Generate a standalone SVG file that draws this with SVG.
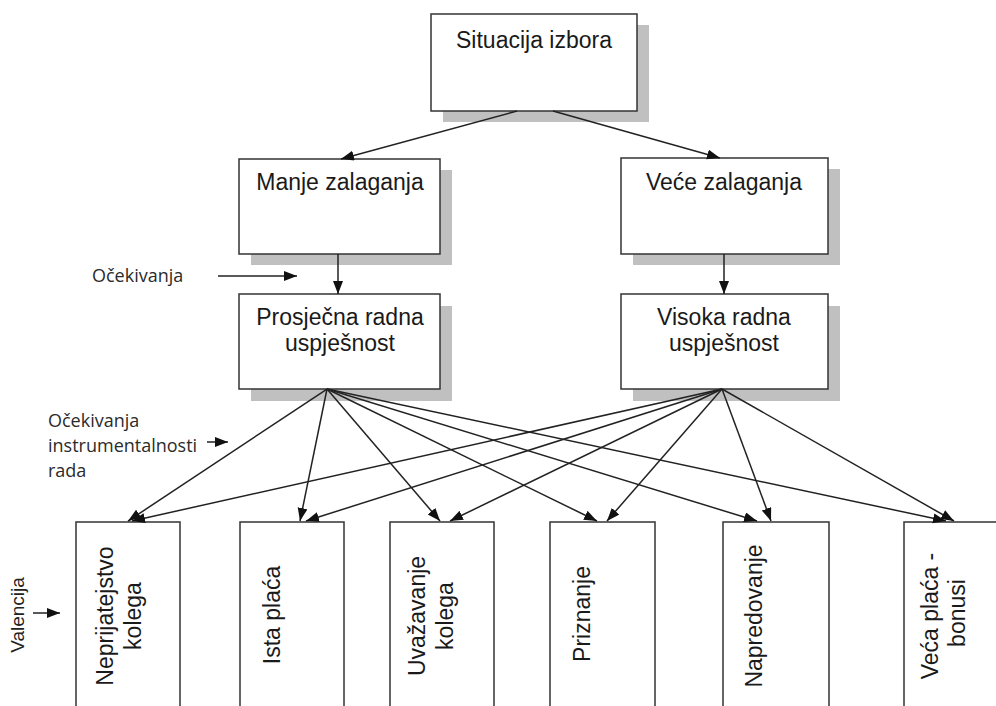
<svg xmlns="http://www.w3.org/2000/svg" width="996" height="706" viewBox="0 0 996 706">
<style>
.box{fill:#fff;stroke:#333;stroke-width:1.5}
.shadow{fill:#c0c0c0}
.lbl{font-family:"Liberation Sans",Arial,sans-serif;font-size:23px;fill:#1a1a1a;text-anchor:middle}
.side{font-family:"Open Sans","Noto Sans",sans-serif;font-size:18px;fill:#2b2b2b}
.val{font-family:"Liberation Sans",Arial,sans-serif;font-size:19px;fill:#222;text-anchor:middle}
.con{fill:none;stroke:#222;stroke-width:1.5;marker-end:url(#ah)}
</style>
<defs>
<marker id="ah" markerUnits="userSpaceOnUse" markerWidth="15" markerHeight="12" refX="13" refY="5" orient="auto">
<path d="M0,0 L13,5 L0,10 z" fill="#111"/>
</marker>
</defs>
<rect width="996" height="706" fill="#fff"/>

<g id="situacija">
<rect class="shadow" x="443" y="25" width="206" height="97"/>
<rect class="box" x="431" y="14" width="206" height="97"/>
<text class="lbl" x="534" y="48">Situacija izbora</text>
</g>
<g id="manje">
<rect class="shadow" x="251" y="170" width="201" height="95"/>
<rect class="box" x="239" y="159" width="201" height="95"/>
<text class="lbl" x="340" y="190">Manje zalaganja</text>
</g>
<g id="vece">
<rect class="shadow" x="633" y="169" width="207" height="96"/>
<rect class="box" x="621" y="158" width="207" height="96"/>
<text class="lbl" x="724" y="190">Veće zalaganja</text>
</g>
<g id="prosjecna">
<rect class="shadow" x="251" y="306" width="201" height="95"/>
<rect class="box" x="239" y="294" width="201" height="95"/>
<text class="lbl" x="340" y="325">Prosječna radna</text>
<text class="lbl" x="340" y="351">uspješnost</text>
</g>
<g id="visoka">
<rect class="shadow" x="633" y="306" width="207" height="95"/>
<rect class="box" x="621" y="294" width="207" height="95"/>
<text class="lbl" x="724" y="325">Visoka radna</text>
<text class="lbl" x="724" y="351">uspješnost</text>
</g>

<g id="neprijateljstvo">
<rect class="box" x="76" y="522" width="104" height="200"/>
<text class="lbl" transform="translate(113,616) rotate(-90)">Neprijatejstvo</text>
<text class="lbl" transform="translate(141,616) rotate(-90)">kolega</text>
</g>
<g id="ista">
<rect class="box" x="240" y="522" width="104" height="200"/>
<text class="lbl" transform="translate(280,615) rotate(-90)">Ista plaća</text>
</g>
<g id="uvazavanje">
<rect class="box" x="390" y="522" width="104" height="200"/>
<text class="lbl" transform="translate(425,616) rotate(-90)">Uvažavanje</text>
<text class="lbl" transform="translate(453,616) rotate(-90)">kolega</text>
</g>
<g id="priznanje">
<rect class="box" x="550" y="522" width="105" height="200"/>
<text class="lbl" transform="translate(590,614) rotate(-90)">Priznanje</text>
</g>
<g id="napredovanje">
<rect class="box" x="723" y="522" width="106" height="200"/>
<text class="lbl" transform="translate(762,616) rotate(-90)">Napredovanje</text>
</g>
<g id="veca">
<rect class="box" x="904" y="522" width="106" height="200"/>
<text class="lbl" transform="translate(938,616) rotate(-90)">Veća plaća -</text>
<text class="lbl" transform="translate(965,613) rotate(-90)">bonusi</text>
</g>

<g id="labels">
<text class="side" x="92" y="282">Očekivanja</text>
<text class="side" x="48" y="427">Očekivanja</text>
<text class="side" x="48" y="452">instrumentalnosti</text>
<text class="side" x="48" y="477">rada</text>
<text class="val" transform="translate(24,615) rotate(-90)">Valencija</text>
</g>

<g id="connectors">
<line class="con" x1="517" y1="111" x2="341" y2="159"/>
<line class="con" x1="553" y1="111" x2="720" y2="158"/>
<line class="con" x1="338" y1="254" x2="338" y2="294"/>
<line class="con" x1="724" y1="254" x2="724" y2="294"/>
<line class="con" x1="218" y1="276" x2="297" y2="276"/>
<line class="con" x1="207" y1="442" x2="228" y2="442"/>
<line class="con" x1="33" y1="613" x2="60" y2="613"/>

<line class="con" x1="327" y1="389" x2="128" y2="521"/>
<line class="con" x1="327" y1="389" x2="300" y2="521"/>
<line class="con" x1="327" y1="389" x2="440" y2="521"/>
<line class="con" x1="327" y1="389" x2="597" y2="521"/>
<line class="con" x1="327" y1="389" x2="757" y2="521"/>
<line class="con" x1="327" y1="389" x2="946" y2="521"/>

<line class="con" x1="722" y1="389" x2="132" y2="521"/>
<line class="con" x1="722" y1="389" x2="306" y2="521"/>
<line class="con" x1="722" y1="389" x2="450" y2="521"/>
<line class="con" x1="722" y1="389" x2="607" y2="521"/>
<line class="con" x1="722" y1="389" x2="771" y2="521"/>
<line class="con" x1="722" y1="389" x2="954" y2="521"/>
</g>
</svg>
